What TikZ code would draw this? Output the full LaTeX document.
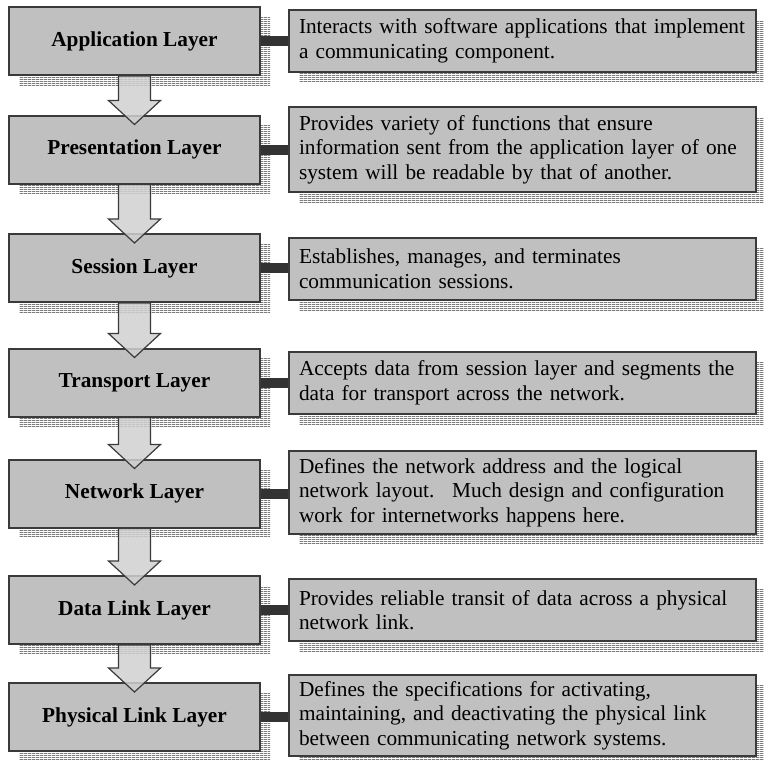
\documentclass[tikz,border=0pt]{standalone}
\usepackage{fontspec}
\setmainfont{Liberation Serif}
\usetikzlibrary{shadows,patterns,calc}
\definecolor{boxfill}{HTML}{C0C0C0}
\definecolor{boxline}{HTML}{3A3A3A}
\definecolor{stripe}{HTML}{7C7C7C}
\definecolor{connc}{HTML}{333333}
\definecolor{arrowfill}{HTML}{D0D0D0}
\pgfdeclarepatternformonly{hstripes}{\pgfqpoint{0pt}{0pt}}{\pgfqpoint{4pt}{2.2pt}}{\pgfqpoint{4pt}{2.2pt}}{%
  \pgfpathrectangle{\pgfqpoint{-0.2pt}{0pt}}{\pgfqpoint{4.4pt}{1.15pt}}\pgfusepath{fill}}
\newcommand\blockarrowbetween[2]{%
  \draw[blockarrow] ([xshift=-16pt]#1.south) -- ([xshift=-16pt,yshift=14pt]#2.north)
    -- ([xshift=-26pt,yshift=14pt]#2.north) -- ([yshift=-10pt]#2.north)
    -- ([xshift=26pt,yshift=14pt]#2.north) -- ([xshift=16pt,yshift=14pt]#2.north)
    -- ([xshift=16pt]#1.south) -- cycle;}
\begin{document}
\begin{tikzpicture}[x=1pt,y=-1pt,
  stripeshadow/.style={general shadow={shadow xshift=10pt,shadow yshift=-10pt,pattern=hstripes,pattern color=stripe}},
  layerbox/.style={draw=boxline,line width=2pt,fill=boxfill,stripeshadow,minimum width=251pt,minimum height=68pt,
    inner sep=0pt,font=\fontsize{21.3}{24.5}\selectfont\bfseries},
  descbox/.style={draw=boxline,line width=2pt,fill=boxfill,stripeshadow,text width=447pt,align=left,
    inner xsep=10pt,inner ysep=0pt,font=\fontsize{21.3}{24.5}\selectfont},
  connector/.style={draw=connc,line width=10pt},
  blockarrow/.style={draw=boxline,line width=1.2pt,fill=arrowfill,fill opacity=0.85,line join=miter}]
\useasboundingbox (0,0) rectangle (764,761);

\node[layerbox] (L1) at (134.5,41) {\raisebox{3pt}{Application Layer}};
\node[descbox,minimum height=62pt] (R1) at (522.5,41) {Interacts with software applications that implement\\a communicating component.};

\node[layerbox] (L2) at (134.5,149.5) {\raisebox{3pt}{Presentation Layer}};
\node[descbox,minimum height=85pt] (R2) at (522.5,149.5) {Provides variety of functions that ensure\\information sent from the application layer of one\\system will be readable by that of another.};

\node[layerbox] (L3) at (134.5,268) {\raisebox{3pt}{Session Layer}};
\node[descbox,minimum height=62pt] (R3) at (522.5,269) {Establishes, manages, and terminates\\communication sessions.};

\node[layerbox] (L4) at (134.5,382.5) {\raisebox{3pt}{Transport Layer}};
\node[descbox,minimum height=62pt] (R4) at (522.5,383) {Accepts data from session layer and segments the\\data for transport across the network.};

\node[layerbox] (L5) at (134.5,493.5) {\raisebox{3pt}{Network Layer}};
\node[descbox,minimum height=83pt] (R5) at (522.5,492.5) {Defines the network address and the logical\\network layout.~ Much design and configuration\\work for internetworks happens here.};

\node[layerbox] (L6) at (134.5,610) {\raisebox{3pt}{Data Link Layer}};
\node[descbox,minimum height=62pt] (R6) at (522.5,610) {Provides reliable transit of data across a physical\\network link.};

\node[layerbox] (L7) at (134.5,717) {\raisebox{3pt}{Physical Link Layer}};
\node[descbox,minimum height=81pt] (R7) at (522.5,715.5) {Defines the specifications for activating,\\maintaining, and deactivating the physical link\\between communicating network systems.};

\foreach \i in {1,...,7} {
  \draw[connector] (L\i.east) -- (L\i.east -| R\i.west);
}

\blockarrowbetween{L1}{L2}
\blockarrowbetween{L2}{L3}
\blockarrowbetween{L3}{L4}
\blockarrowbetween{L4}{L5}
\blockarrowbetween{L5}{L6}
\blockarrowbetween{L6}{L7}
\end{tikzpicture}
\end{document}
